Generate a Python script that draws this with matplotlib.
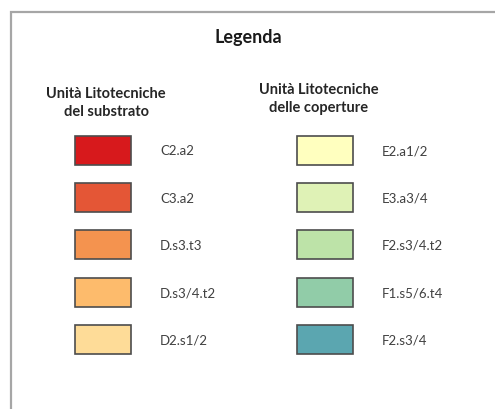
import matplotlib.pyplot as plt
from matplotlib.patches import Rectangle

# legend content
substrato_units = ['C2.a2', 'C3.a2', 'D.s3.t3', 'D.s3/4.t2', 'D2.s1/2']
substrato_colors = ['#d7191c', '#e45636', '#f4934f', '#fdbb6c', '#fedc98']
coperture_units = ['E2.a1/2', 'E3.a3/4', 'F2.s3/4.t2', 'F1.s5/6.t4', 'F2.s3/4']
coperture_colors = ['#ffffbf', '#dff2b6', '#bde3a8', '#91cca8', '#5ba6b0']

title = 'Legenda'
col_titles = ['Unità Litotecniche\ndel substrato', 'Unità Litotecniche\ndelle coperture']

plt.rcParams['font.family'] = ['Lato', 'DejaVu Sans']

fig = plt.figure(figsize=(4.95, 4.1), dpi=100)
ax = fig.add_axes([0, 0, 1, 1])
ax.set_xlim(0, 495)
ax.set_ylim(410, 0)
ax.axis('off')

# frame (only left and top edges visible in the crop)
ax.plot([10.5, 10.5, 495], [410, 12.5, 12.5], color='#a6a6a6', lw=1.6,
        solid_joinstyle='miter')

ax.text(248, 38, title, ha='center', va='center', fontsize=13, fontweight='bold',
        color='#1a1a1a')
ax.text(106, 103, col_titles[0], ha='center', va='center', fontsize=10.5,
        fontweight='bold', color='#262626', linespacing=1.3)
ax.text(319, 99, col_titles[1], ha='center', va='center', fontsize=10.5,
        fontweight='bold', color='#262626', linespacing=1.3)

sw_w, sw_h = 56, 29
y0, pitch = 137, 47.2
columns = [(75, 160, substrato_units, substrato_colors),
           (297, 382, coperture_units, coperture_colors)]
for x_sw, x_lab, units, colors in columns:
    for i, (u, c) in enumerate(zip(units, colors)):
        y = y0 + i * pitch
        ax.add_patch(Rectangle((x_sw, y), sw_w, sw_h, facecolor=c,
                               edgecolor='#4d4d4d', lw=1.2))
        ax.text(x_lab, y + sw_h / 2, u, ha='left', va='center', fontsize=9.5,
                color='#404040')

fig.savefig('out.png', dpi=100)
